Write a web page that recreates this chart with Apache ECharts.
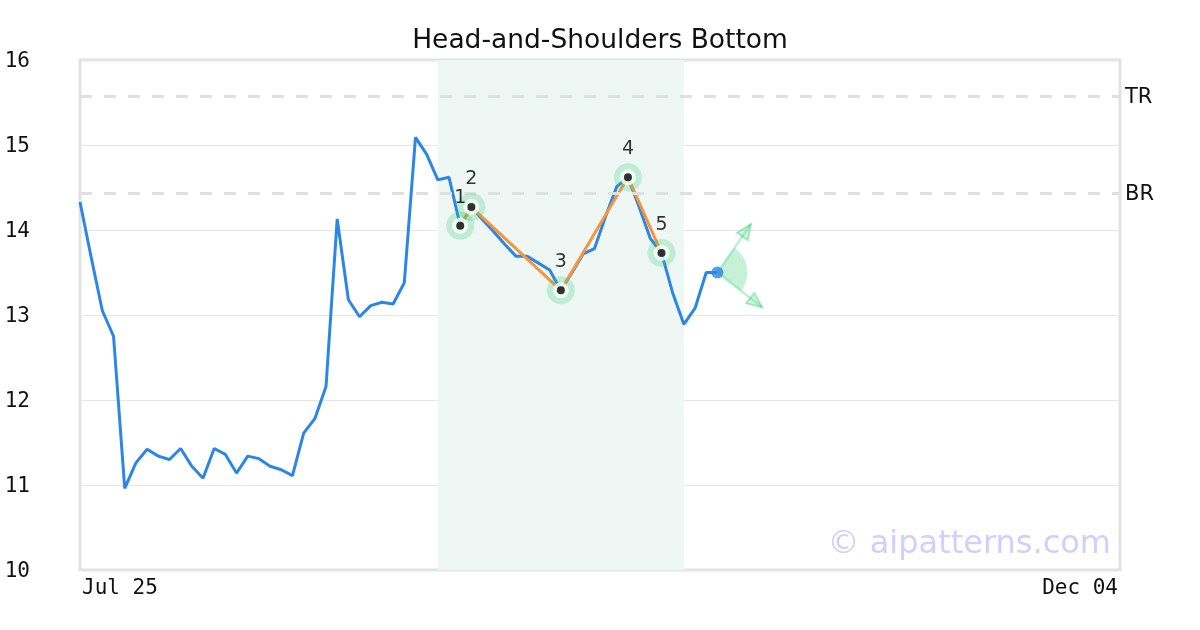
<!DOCTYPE html>
<html>
<head>
<meta charset="utf-8">
<script src="https://cdn.jsdelivr.net/npm/echarts@6/dist/echarts.min.js"></script>
<style>html,body{margin:0;padding:0;background:#fff}#c{width:1200px;height:630px}</style>
</head>
<body>
<div id="c"></div>
<script>
// trading-day calendar (month -> days)
const monthNames = ['Jul', 'Aug', 'Sep', 'Oct', 'Nov', 'Dec'];
const daysJul = [25, 28, 29, 30, 31];
const daysAug = [1, 4, 5, 6, 7, 8, 11, 12, 13, 14, 15, 18, 19, 20, 21, 22, 25, 26, 27, 28, 29];
const daysSep = [1, 2, 3, 4, 5, 8, 9, 10, 11, 12, 15, 16, 17, 18, 19, 22, 23, 24, 25, 26, 29, 30];
const daysOct = [1, 2, 3, 6, 7, 8, 9, 10, 13, 14, 15, 16, 17, 20, 21, 22, 23, 24, 27, 28, 29, 30, 31];
const daysNov = [3, 4, 5, 6, 7, 10, 11, 12, 13, 14, 17, 18, 19, 20, 21, 24, 25, 26, 28];
const daysDec = [1, 2, 3, 4];

// closing prices
const prices = [14.33, 13.68, 13.05, 12.75, 10.96, 11.26, 11.42, 11.34, 11.30, 11.43,
  11.22, 11.08, 11.43, 11.36, 11.14, 11.34, 11.31, 11.22, 11.18, 11.11,
  11.61, 11.78, 12.16, 14.13, 13.18, 12.98, 13.11, 13.15, 13.13, 13.38,
  15.09, 14.89, 14.59, 14.62, 14.05, 14.27, 14.12, 13.98, 13.83, 13.69,
  13.69, 13.61, 13.53, 13.29, 13.50, 13.72, 13.78, 14.16, 14.51, 14.62,
  14.27, 13.90, 13.73, 13.26, 12.89, 13.08, 13.50, 13.50];

// pattern pivots: [index, price]
const pivotIdx = [34, 35, 43, 49, 52];
const pivotVal = [14.05, 14.27, 13.29, 14.62, 13.73];
const pivotLabels = ['1', '2', '3', '4', '5'];

// reference levels
const levelNames = ['TR', 'BR'];
const levelValues = [15.57, 14.43];

// pattern window [startIdx, endIdx]
const zoneRange = [32, 54];

// projection arrows: start point, up tip, down tip  [idx, price]
const arrowStart = [57, 13.50];
const arrowUp = [60.15, 14.07];
const arrowDown = [61.46, 13.09];

const yTicks = [10, 11, 12, 13, 14, 15, 16];

const months = [daysJul, daysAug, daysSep, daysOct, daysNov, daysDec];
const categories = [];
months.forEach((arr, m) => arr.forEach(d => categories.push(monthNames[m] + ' ' + String(d).padStart(2, '0'))));

const chart = echarts.init(document.getElementById('c'), null, {renderer: 'canvas'});
const GREEN = '46,204,113';
const lastIdx = categories.length - 1;
const pivotData = pivotIdx.map((x, i) => [x, pivotVal[i]]);

const option = {
  animation: false,
  title: {
    text: 'Head-and-Shoulders Bottom', left: 'center', top: 27, padding: 0,
    textStyle: {fontFamily: 'DejaVu Sans', fontSize: 26.5, fontWeight: 'normal', color: '#111', lineHeight: 28}
  },
  grid: {left: 80, right: 80, top: 60, bottom: 60, show: true, borderColor: '#e2e2e2', borderWidth: 3, backgroundColor: 'transparent'},
  xAxis: {
    type: 'category', data: categories, boundaryGap: false,
    axisLine: {show: false}, axisTick: {show: false}, splitLine: {show: false},
    axisLabel: {
      interval: (i) => i === 0 || i === lastIdx,
      showMinLabel: true, showMaxLabel: true,
      alignMinLabel: 'left', alignMaxLabel: 'right',
      fontFamily: 'DejaVu Sans Mono', fontSize: 21, color: '#111', margin: 8,
      padding: [0, 2, 0, 2]
    }
  },
  yAxis: {
    type: 'value', min: yTicks[0], max: yTicks[yTicks.length - 1], interval: 1,
    axisLine: {show: false}, axisTick: {show: false},
    splitLine: {lineStyle: {color: '#e6e6e6', width: 1}},
    axisLabel: {fontFamily: 'DejaVu Sans Mono', fontSize: 21, color: '#111', margin: 50, align: 'right', verticalAlign: 'top', lineHeight: 4}
  },
  graphic: [{
    type: 'text', right: 89, top: 529, z: 1,
    style: {text: '© aipatterns.com', font: '32px "DejaVu Sans"', fill: '#d0d0ff'}
  }],
  series: [
    {
      type: 'line', data: prices, symbol: 'none', z: 3,
      lineStyle: {color: '#2b86e6', width: 3},
      markArea: {
        silent: true,
        itemStyle: {color: '#eef7f3'},
        data: [[{xAxis: zoneRange[0]}, {xAxis: zoneRange[1]}]]
      },
      markLine: {
        silent: true, symbol: 'none',
        lineStyle: {color: '#e0e0e0', width: 3, type: [12, 12]},
        label: {position: 'end', distance: 5, fontFamily: 'DejaVu Sans', fontSize: 21, color: '#111', formatter: '{b}', verticalAlign: 'top', lineHeight: 2},
        data: levelNames.map((n, i) => ({name: n, yAxis: levelValues[i]}))
      }
    },
    {
      type: 'line', data: pivotData, symbol: 'none', z: 4,
      lineStyle: {color: '#f7943c', width: 3}
    },
    {
      type: 'scatter', data: pivotData, symbol: 'circle', symbolSize: 28, z: 5,
      itemStyle: {color: 'rgba(' + GREEN + ',0.3)'}
    },
    {
      type: 'scatter', data: pivotData, symbol: 'circle', symbolSize: 16, z: 6,
      itemStyle: {color: '#ffffff'}
    },
    {
      type: 'scatter', data: pivotData, symbol: 'circle', symbolSize: 8, z: 7,
      itemStyle: {color: '#000000'},
      label: {
        show: true, position: 'inside', offset: [0, -28],
        formatter: (p) => pivotLabels[p.dataIndex],
        fontFamily: 'DejaVu Sans', fontSize: 19, color: '#000'
      }
    },
    {
      type: 'custom', z: 6,
      data: [[arrowStart[0], arrowStart[1], arrowUp[0], arrowUp[1], arrowDown[0], arrowDown[1]]],
      renderItem: (params, api) => {
        const s = api.coord([api.value(0), api.value(1)]);
        const u = api.coord([api.value(2), api.value(3)]);
        const d = api.coord([api.value(4), api.value(5)]);
        const aU = Math.atan2(u[1] - s[1], u[0] - s[0]);
        const aD = Math.atan2(d[1] - s[1], d[0] - s[0]);
        const head = (tip, ang) => {
          const L = 15, W = 6.5;
          const bx = tip[0] - L * Math.cos(ang), by = tip[1] - L * Math.sin(ang);
          const px = -Math.sin(ang) * W, py = Math.cos(ang) * W;
          return {
            type: 'polygon',
            shape: {points: [tip, [bx + px, by + py], [bx - px, by - py]]},
            style: {fill: 'rgba(' + GREEN + ',0.2)', stroke: 'rgba(' + GREEN + ',0.4)', lineWidth: 2}
          };
        };
        return {
          type: 'group',
          children: [
            {type: 'sector', shape: {cx: s[0], cy: s[1], r0: 0, r: 30, startAngle: aU, endAngle: aD, clockwise: true},
              style: {fill: 'rgba(' + GREEN + ',0.28)'}},
            {type: 'line', shape: {x1: s[0], y1: s[1], x2: u[0], y2: u[1]}, style: {stroke: 'rgba(' + GREEN + ',0.3)', lineWidth: 2.5}},
            {type: 'line', shape: {x1: s[0], y1: s[1], x2: d[0], y2: d[1]}, style: {stroke: 'rgba(' + GREEN + ',0.3)', lineWidth: 2.5}},
            head(u, aU), head(d, aD)
          ]
        };
      }
    },
    {
      type: 'scatter', data: [arrowStart], symbol: 'circle', symbolSize: 12, z: 8,
      itemStyle: {color: '#2b86e6'}
    }
  ]
};
chart.setOption(option);
</script>
</body>
</html>
